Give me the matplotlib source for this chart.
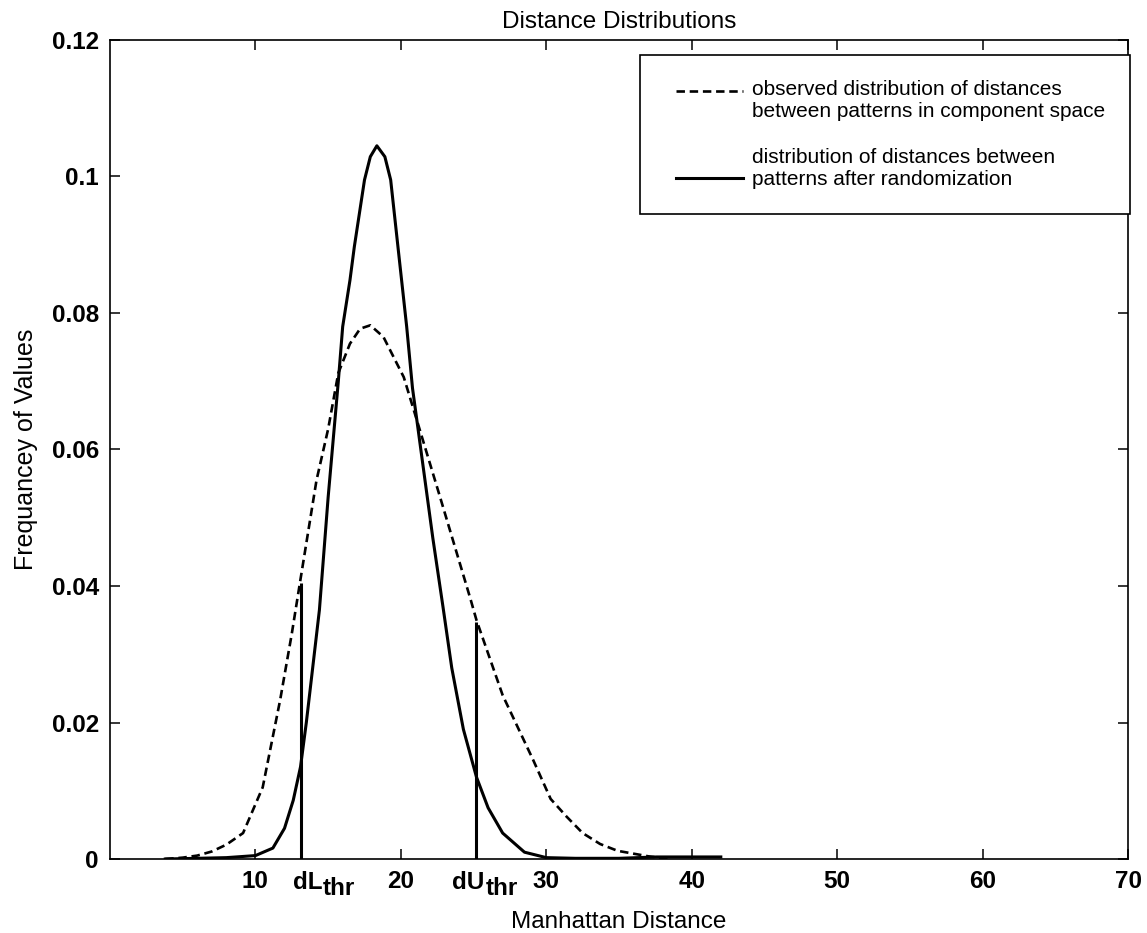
import matplotlib
matplotlib.use('Agg')
import matplotlib.pyplot as plt
from matplotlib.legend_handler import HandlerLine2D

plt.rcParams['font.family'] = ['Liberation Sans', 'DejaVu Sans']

# observed distribution (dashed)
obs_x = [3.8, 5, 6, 7, 8, 9.15, 10.5, 11.7, 12.5, 13.1, 14.2, 15.0, 15.7, 16.5, 17.2,
         17.9, 18.8, 20.2, 21.1, 22.7, 24.8, 25.2, 27.0, 29.1, 30.3, 31.4, 32.5, 33.7,
         34.9, 37.0, 38.5]
obs_y = [0, 0.0002, 0.0005, 0.0011, 0.0021, 0.0038, 0.0105, 0.0233, 0.033, 0.041, 0.0555,
         0.063, 0.0712, 0.0755, 0.0777, 0.0782, 0.0765, 0.0706, 0.0643, 0.053, 0.038, 0.035,
         0.024, 0.0145, 0.0088, 0.0062, 0.0038, 0.0022, 0.0012, 0.0004, 0.0]

# distribution after randomization (solid)
rand_x = [3.8, 6, 8, 10, 11.2, 12.0, 12.6, 13.1, 13.5, 14.4, 15.0, 15.7, 16.0, 16.5, 16.8,
          17.5, 17.9, 18.35, 18.9, 19.3, 19.8, 20.4, 20.8, 21.1, 21.5, 22.2, 22.9, 23.5,
          24.3, 25.2, 26.0, 27.0, 28.5, 30.0, 32.0, 35.0, 37.6, 40.0, 42.0]
rand_y = [0, 0.0001, 0.0002, 0.0005, 0.0016, 0.0045, 0.0086, 0.0135, 0.02, 0.0365, 0.053,
          0.070, 0.078, 0.0848, 0.0897, 0.0995, 0.1029, 0.1045, 0.1029, 0.0995, 0.0897,
          0.078, 0.069, 0.0643, 0.058, 0.047, 0.0369, 0.028, 0.019, 0.012, 0.0075, 0.0038,
          0.001, 0.0002, 0.0001, 0.0001, 0.0003, 0.0003, 0.0003]

# thresholds
thr_x = [13.1, 25.2]
thr_y = [0.0405, 0.0347]
thr_names = ['dL', 'dU']

xticks = [10, 20, 30, 40, 50, 60, 70]
yticks = [0, 0.02, 0.04, 0.06, 0.08, 0.1, 0.12]
yticklabels = ['0', '0.02', '0.04', '0.06', '0.08', '0.1', '0.12']


class ShiftedLine(HandlerLine2D):
    # legend sample moved right by dx and up by dy (in font sizes), like the matlab legend
    def __init__(self, dx, dy, **kw):
        super().__init__(**kw)
        self.dx = dx
        self.dy = dy

    def create_artists(self, legend, orig_handle, xdescent, ydescent, width, height,
                       fontsize, trans):
        return super().create_artists(legend, orig_handle, xdescent - self.dx * fontsize,
                                      ydescent - 2 * self.dy * fontsize, width, height,
                                      fontsize, trans)


fig = plt.figure(figsize=(11.47, 9.33), dpi=100)
ax = fig.add_axes([110 / 1147, 1 - 859 / 933, 1018 / 1147, 819 / 933])

l_obs, = ax.plot(obs_x, obs_y, color='black', lw=1.9, dashes=(3.2, 1.8),
                 label='observed distribution of distances\nbetween patterns in component space')
l_rand, = ax.plot(rand_x, rand_y, color='black', lw=2.2,
                  label='distribution of distances between\npatterns after randomization')
ax.vlines(thr_x, 0, thr_y, color='black', lw=2.2)

ax.set_xlim(0, 70)
ax.set_ylim(0, 0.12)
ax.set_xticks(xticks)
ax.set_xticklabels([str(t) for t in xticks], fontsize=17.5, fontweight='bold')
ax.set_yticks(yticks)
ax.set_yticklabels(yticklabels, fontsize=17.5, fontweight='bold')
ax.tick_params(direction='in', length=7.5, width=1.1, top=True, right=True, pad=8)
for s in ax.spines.values():
    s.set_linewidth(1.2)

# threshold labels with full size subscript, like the original
offsets = [(-8, 22), (-24, 9)]
for x, name, (o1, o2) in zip(thr_x, thr_names, offsets):
    ax.annotate(name, xy=(x, 0), xycoords=('data', 'axes fraction'), xytext=(o1, -12),
                textcoords='offset pixels', ha='left', va='top', fontsize=17.5,
                fontweight='bold')
    ax.annotate('thr', xy=(x, 0), xycoords=('data', 'axes fraction'), xytext=(o2, -18),
                textcoords='offset pixels', ha='left', va='top', fontsize=17.5,
                fontweight='bold')

ax.set_title('Distance Distributions', fontsize=17.5, pad=9)
ax.set_xlabel('Manhattan Distance', fontsize=17.5, labelpad=13)
ax.set_ylabel('Frequancey of Values', fontsize=18, labelpad=10)

leg = ax.legend(handler_map={l_obs: ShiftedLine(0.5, 0.45), l_rand: ShiftedLine(0.5, -0.45)},
                loc='upper right', bbox_to_anchor=(1130 / 1147, 1 - 55 / 933),
                bbox_transform=fig.transFigure, borderaxespad=0, fancybox=False,
                edgecolor='black', framealpha=1, fontsize=15, handlelength=3.2,
                labelspacing=1.3, borderpad=1.2, handletextpad=0.95)
leg.get_frame().set_linewidth(1.2)
for t in leg.get_texts():
    t.set_linespacing(1.2)

fig.savefig('out.png', dpi=100)
